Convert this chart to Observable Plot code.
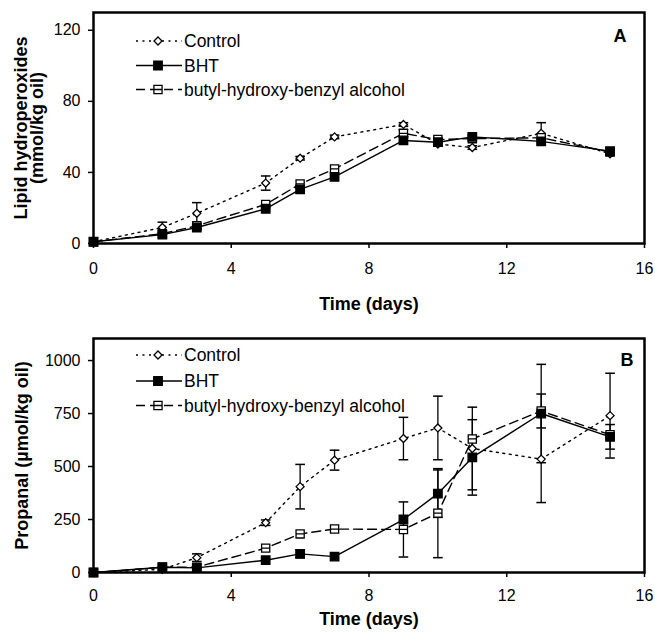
<!DOCTYPE html>
<html>
<head>
<meta charset="utf-8">
<script src="https://cdn.jsdelivr.net/npm/d3@7"></script>
<script src="https://cdn.jsdelivr.net/npm/@observablehq/plot@0.6"></script>
<style>
  body { margin: 0; background: white; font-family: "Liberation Sans", Arial, sans-serif; }
  .panel { position: relative; width: 655px; }
  .legend { position: absolute; left: 0; top: 0; pointer-events: none; }
</style>
</head>
<body>
<div id="chart"></div>
<script>
// ---------- data ----------
const days = [0, 2, 3, 5, 6, 7, 9, 10, 11, 13, 15];
const seriesNames = ["Control", "BHT", "butyl-hydroxy-benzyl alcohol"];

// Panel A: lipid hydroperoxides (mmol/kg oil)
const lipidControl    = [1, 9, 17, 34, 48, 60, 67, 56, 54, 62, 50.5];
const lipidControlErr = [0, 3, 6, 4, 1, 1, 1, 1, 1, 6, 1];
const lipidBHT        = [1, 5, 9, 19.5, 30.5, 37.5, 58, 57, 60, 57.5, 52];
const lipidBHTErr     = [0, 0, 1, 0, 0, 0, 0, 2, 0, 0, 0];
const lipidBHBA       = [1, 5.5, 10, 22, 33.5, 42, 62, 58.5, 59, 59.5, 51.5];
const lipidBHBAErr    = [0, 0, 0, 0, 0, 0, 2, 0, 0, 0, 0];

// Panel B: propanal (µmol/kg oil)
const propControl    = [0, 15, 70, 235, 405, 530, 632, 682, 585, 535, 740];
const propControlErr = [0, 0, 18, 13, 105, 47, 100, 150, 195, 205, 200];
const propBHT        = [0, 25, 22, 58, 88, 75, 250, 372, 543, 750, 640];
const propBHTErr     = [0, 0, 0, 0, 18, 0, 0, 112, 178, 232, 58];
const propBHBA       = [0, 25, 25, 115, 182, 205, 203, 280, 630, 762, 650];
const propBHBAErr    = [0, 0, 0, 0, 0, 0, 130, 210, 0, 80, 0];

const xTicks = [0, 4, 8, 12, 16];
const yTicksA = [0, 40, 80, 120];
const yTicksB = [0, 250, 500, 750, 1000];

// ---------- styles ----------
const FONT = "'Liberation Sans', Arial, sans-serif";
const squareLine = {
  draw(context, size) {
    const r = Math.sqrt(size) * 0.4431;
    context.moveTo(-r, -r); context.lineTo(r, -r); context.lineTo(r, r); context.lineTo(-r, r); context.closePath();
    context.moveTo(-r, 0); context.lineTo(r, 0);
  }
};
const styles = [
  {dash: "2,4.5", symbol: "diamond2", r: 3.6, fill: "white", d3sym: d3.symbolDiamond2, sw: 1.4},
  {dash: null, symbol: "square", r: 4.8, fill: "black", d3sym: d3.symbolSquare, sw: 1.4},
  {dash: "9,5", symbol: squareLine, r: 5.2, fill: "white", d3sym: squareLine, sw: 1.4}
];

function rowsFor(vals, errs, name) {
  return days.map((d, i) => ({x: d, y: vals[i], err: errs[i], lo: vals[i] - errs[i], hi: vals[i] + errs[i], series: name}));
}

function panel(cfg) {
  const series = cfg.series.map((s, i) => rowsFor(s.vals, s.errs, seriesNames[i]));
  const errRows = series.flat().filter(d => d.err > 0);
  const cap = 0.14;
  const marks = [
    Plot.ruleX(errRows, {x: "x", y1: "lo", y2: "hi", stroke: "black", strokeWidth: 1.3}),
    Plot.link(errRows, {x1: d => d.x - cap, x2: d => d.x + cap, y1: "hi", y2: "hi", stroke: "black", strokeWidth: 1.5}),
    Plot.link(errRows, {x1: d => d.x - cap, x2: d => d.x + cap, y1: "lo", y2: "lo", stroke: "black", strokeWidth: 1.5})
  ];
  const order = [0, 2, 1];
  for (const i of order) {
    marks.push(Plot.line(series[i], {x: "x", y: "y", stroke: "black", strokeWidth: styles[i].sw, strokeDasharray: styles[i].dash}));
  }
  for (const i of order) {
    marks.push(Plot.dot(series[i], {x: "x", y: "y", symbol: styles[i].symbol, r: styles[i].r, fill: styles[i].fill, stroke: "black", strokeWidth: 1.3}));
  }
  marks.push(
    Plot.frame({stroke: "black", strokeWidth: 2.5}),
    Plot.axisX({ticks: xTicks, tickSize: 5, tickPadding: cfg.xPad, tickFormat: d => String(d), label: null, fontSize: 16, strokeWidth: 1.5}),
    Plot.axisY({ticks: cfg.yTicks, tickSize: 5, tickPadding: 8, tickFormat: d => String(d), label: null, fontSize: 16, strokeWidth: 1.5}),
    Plot.text([cfg.yLabel], {frameAnchor: "left", dx: cfg.yLabelDx, rotate: -90, textAnchor: "middle", lineAnchor: "middle", lineHeight: 0.9, fontSize: 18, fontWeight: "bold", fill: "black"}),
    Plot.text(["Time (days)"], {frameAnchor: "bottom", dy: cfg.xLabelDy, textAnchor: "middle", lineAnchor: "middle", fontSize: 18, fontWeight: "bold", fill: "black"}),
    Plot.text([cfg.letter], {frameAnchor: "top-right", dx: cfg.letterDx, dy: cfg.letterDy, lineAnchor: "middle", textAnchor: "end", fontSize: 18, fontWeight: "bold", fill: "black"})
  );
  const plot = Plot.plot({
    width: 655,
    height: cfg.height,
    marginTop: cfg.marginTop,
    marginBottom: cfg.marginBottom,
    marginLeft: 93,
    marginRight: 11,
    x: {domain: [0, 16]},
    y: {domain: [0, cfg.ymax]},
    style: {fontFamily: FONT, fontSize: "16px", color: "black", background: "white", overflow: "visible"},
    marks
  });
  const wrap = document.createElement("div");
  wrap.className = "panel";
  wrap.appendChild(plot);

  // legend overlay
  const svg = d3.create("svg").attr("class", "legend").attr("width", 655).attr("height", cfg.height);
  seriesNames.forEach((name, i) => {
    const y = cfg.legendY[i];
    const g = svg.append("g");
    g.append("line").attr("x1", 136).attr("x2", 182).attr("y1", y).attr("y2", y)
      .attr("stroke", "black").attr("stroke-width", styles[i].sw)
      .attr("stroke-dasharray", styles[i].dash);
    const r = styles[i].r;
    g.append("path").attr("transform", `translate(158,${y})`)
      .attr("d", d3.symbol().type(styles[i].d3sym).size(Math.PI * r * r)())
      .attr("fill", styles[i].fill).attr("stroke", "black").attr("stroke-width", 1.3);
    g.append("text").attr("x", 184).attr("y", y).attr("dy", "0.35em")
      .attr("font-family", FONT).attr("font-size", 17.5).attr("fill", "black").text(name);
  });
  wrap.appendChild(svg.node());
  return wrap;
}

const chart = document.getElementById("chart");
chart.appendChild(panel({
  height: 316, marginTop: 12, marginBottom: 73, ymax: 130, yTicks: yTicksA, xPad: 14,
  yLabel: "Lipid hydroperoxides\n(mmol/kg oil)", yLabelDx: -63.5, xLabelDy: 61,
  letter: "A", letterDx: -18, letterDy: 24,
  legendY: [41, 65.5, 89.5],
  series: [
    {vals: lipidControl, errs: lipidControlErr},
    {vals: lipidBHT, errs: lipidBHTErr},
    {vals: lipidBHBA, errs: lipidBHBAErr}
  ]
}));
chart.appendChild(panel({
  height: 317, marginTop: 22, marginBottom: 61, ymax: 1104, yTicks: yTicksB, xPad: 12,
  yLabel: "Propanal (µmol/kg oil)", yLabelDx: -71, xLabelDy: 47,
  letter: "B", letterDx: -11, letterDy: 22,
  legendY: [39, 65, 89.5],
  series: [
    {vals: propControl, errs: propControlErr},
    {vals: propBHT, errs: propBHTErr},
    {vals: propBHBA, errs: propBHBAErr}
  ]
}));
</script>
</body>
</html>
